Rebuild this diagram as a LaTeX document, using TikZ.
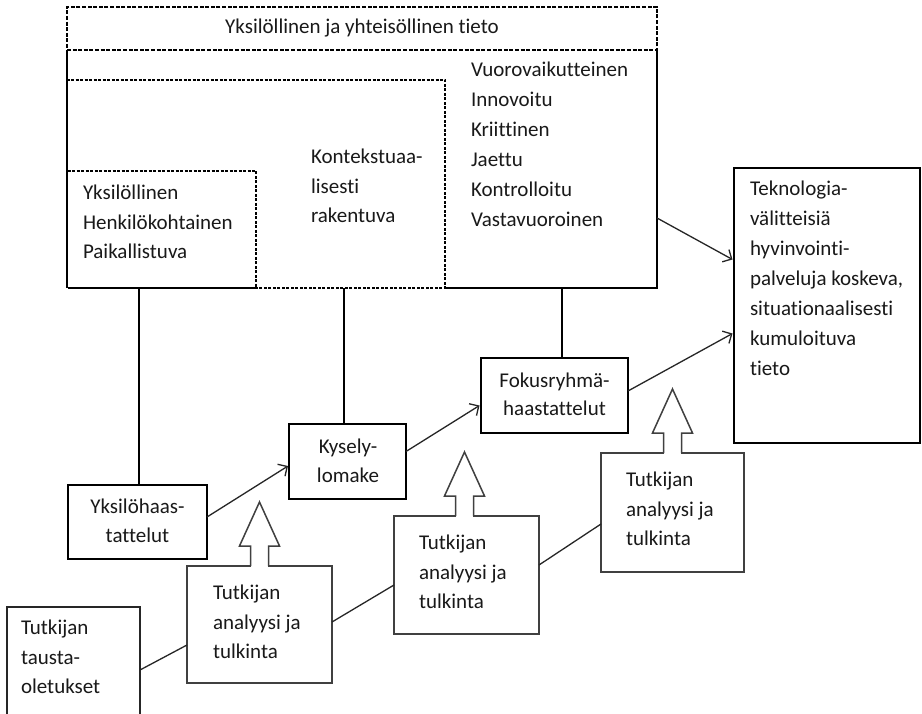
\documentclass[tikz,border=0pt]{standalone}
\usepackage{fontspec}
\setmainfont{Carlito}[RawFeature={-liga;-clig;-dlig;-calt}]
\usetikzlibrary{arrows.meta,calc}
\begin{document}
\begin{tikzpicture}[x=1pt,y=-1pt,
  txt/.style={inner sep=0pt, outer sep=0pt, align=left, anchor=north west, text=black!90, font=\fontsize{21}{29.5}\selectfont},
  ctxt/.style={txt, align=center, anchor=north},
  boxframe/.style={draw, inner sep=0pt, outer sep=0pt},
  plainbox/.style={inner sep=0pt, outer sep=0pt},
  titledash/.style={draw, line width=1.4pt, dash pattern=on 4pt off 1.6pt},
  innerdash/.style={draw, line width=1.2pt, dash pattern=on 3pt off 1.5pt},
  bigline/.style={line width=2pt},
  stem/.style={line width=2pt},
  anbox/.style={boxframe, line width=1.5pt, draw=black!75},
  anline/.style={line width=1.5pt, draw=black!75},
  flow/.style={line width=1.3pt, draw=black!85, -{Straight Barb[length=7pt,width=14pt,line width=1.3pt]}},
  link/.style={line width=1.3pt, draw=black!85},
  blockup/.pic={
    \fill[white] (-8.3,1.6) -- (-8.3,-20) -- (-20,-20) -- (0,-64) -- (20,-20) -- (8.3,-20) -- (8.3,1.6) -- cycle;
    \draw[anline, line join=miter] (-9,0) -- (-9,-20) -- (-20,-20) -- (0,-64) -- (20,-20) -- (9,-20) -- (9,0);
  }
]
\useasboundingbox (0,0) rectangle (922,714);
\fill[white] (0,0) rectangle (922,714);
\clip (0,0) rectangle (922,714);

% ---------- top composite box ----------
\node[plainbox, minimum width=590pt, minimum height=238pt] (big) at (362,169) {};
\node[plainbox, minimum width=377.5pt, minimum height=208pt] (ctx) at (256.25,184) {};
\node[plainbox, minimum width=188.5pt, minimum height=117pt] (ind) at (161.75,229.5) {};
\node[titledash, inner sep=0pt, outer sep=0pt, minimum width=590pt, minimum height=43pt] (title) at (362,28.5) {};

\draw[bigline] (big.north west) -- (big.south west);
\draw[bigline] (ctx.south east) -- (big.south east) -- (big.north east);
\draw[innerdash] (ctx.south west) rectangle (ctx.north east);
\draw[innerdash] (ind.south west) rectangle (ind.north east);

\node[txt, anchor=center] (titletext) at (title.center) {Yksilöllinen ja yhteisöllinen tieto};
\node[txt, font=\fontsize{21}{30}\selectfont] (qual) at (471,55.5) {\strut Vuorovaikutteinen\\Innovoitu\\Kriittinen\\Jaettu\\Kontrolloitu\\Vastavuoroinen};
\node[txt] (indtext) at (83,179) {\strut Yksilöllinen\\Henkilökohtainen\\Paikallistuva};
\node[txt] (ctxtext) at (311,143) {\strut Kontekstuaa-\\lisesti\\rakentuva};

% ---------- method boxes ----------
\node[boxframe, line width=2.5pt, minimum width=139pt, minimum height=74pt] (yks) at (137.5,522) {};
\node[boxframe, line width=1.3pt, minimum width=117pt, minimum height=75pt] (kys) at (347.5,461.5) {};
\node[boxframe, line width=2pt, minimum width=147pt, minimum height=75pt] (fok) at (554.5,395.5) {};
\node[boxframe, line width=1.6pt, minimum width=186pt, minimum height=275pt] (tek) at (827,305.5) {};

\node[ctxt, font=\fontsize{21}{29}\selectfont] (yksT) at (137.5,493) {\strut Yksilöhaas-\\tattelut};
\node[ctxt, font=\fontsize{21}{29}\selectfont] (kysT) at (348,433) {\strut Kysely-\\lomake};
\node[ctxt, font=\fontsize{21}{28}\selectfont] (fokT) at (554.5,368) {\strut Fokusryhmä-\\haastattelut};
\node[txt, font=\fontsize{21}{30}\selectfont] (tekT) at (750,174.5) {\strut Teknologia-\\välitteisiä\\hyvinvointi-\\palveluja koskeva,\\situationaalisesti\\kumuloituva\\tieto};

% ---------- researcher boxes ----------
\node[boxframe, line width=1.3pt, draw=black!85, minimum width=133pt, minimum height=113pt] (tau) at (73.5,663.5) {};
\node[anbox, minimum width=145pt, minimum height=117pt] (an1) at (259.5,624.5) {};
\node[anbox, minimum width=145pt, minimum height=118pt] (an2) at (466.5,575) {};
\node[anbox, minimum width=143pt, minimum height=119pt] (an3) at (672.5,512.5) {};

\node[txt] (tauT) at (21,614) {\strut Tutkijan\\tausta-\\oletukset};
\node[txt] (an1T) at (213,579) {\strut Tutkijan\\analyysi ja\\tulkinta};
\node[txt] (an2T) at (419,529) {\strut Tutkijan\\analyysi ja\\tulkinta};
\node[txt] (an3T) at (626,466) {\strut Tutkijan\\analyysi ja\\tulkinta};

\pic at (an1.north) {blockup};
\pic at ($(an2.north)+(-2,0)$) {blockup};
\pic at (an3.north) {blockup};

% ---------- stems ----------
\draw[stem] ($(yks.north)+(1.5,0)$) coordinate (s1) -- (s1 |- big.south);
\draw[stem] ($(kys.north)+(-3.5,0)$) coordinate (s2) -- (s2 |- big.south);
\draw[stem] ($(fok.north)+(7.5,0)$) coordinate (s3) -- (s3 |- big.south);

% ---------- connectors ----------
\draw[flow] ($(yks.east)+(0,-5)$) -- ($(kys.west)+(-1,4.5)$);
\draw[flow] ($(kys.east)+(0,-10)$) -- ($(fok.west)+(-1.5,10)$);
\draw[flow] ($(fok.east)+(0,-4.5)$) -- ($(tek.west)+(-1.5,28)$);
\draw[flow] ($(big.east)+(0,49)$) -- ($(tek.west)+(-1.5,-46)$);

\draw[link] ($(tau.east)+(0,6.5)$) -- ($(an1.west)+(0,20.5)$);
\draw[link] ($(an1.east)+(0,-2.5)$) -- ($(an2.west)+(0,10)$);
\draw[link] ($(an2.east)+(0,-10)$) -- ($(an3.west)+(0,11.5)$);
\end{tikzpicture}
\end{document}
